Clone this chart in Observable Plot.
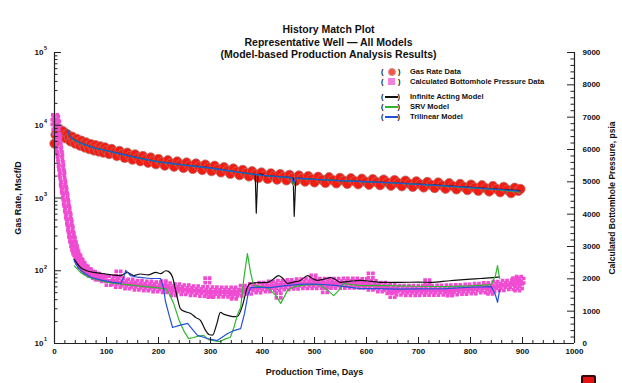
<!DOCTYPE html>
<html><head><meta charset="utf-8">
<script src="https://cdn.jsdelivr.net/npm/d3@7"></script>
<script src="https://cdn.jsdelivr.net/npm/@observablehq/plot@0.6"></script>
<style>
body{margin:0;background:#fff}
#chart{position:relative;width:622px;height:383px;overflow:hidden;font-family:"Liberation Sans",Arial,sans-serif;font-weight:bold}
#chart svg{display:block}
.lg{position:absolute;font-size:7.5px;line-height:9px;color:#111;white-space:nowrap}
.lg .p{position:absolute;top:0}
.lg .t{position:absolute;top:0;left:29px}
.lg .sym{position:absolute}
#badge{position:absolute;left:581px;top:375px;width:11px;height:10px;background:#e31212;border:2px solid #3a0505;border-radius:2px}
</style></head><body><div id="chart"></div>
<script>
// ---------- text ----------
const titleText = "History Match Plot\nRepresentative Well \u2014 All Models\n(Model-based Production Analysis Results)";
const xLabel = "Production Time, Days";
const yLeftLabel = "Gas Rate, Mscf/D";
const yRightLabel = "Calculated Bottomhole Pressure, psia";
const legendLabels = ["Gas Rate Data", "Calculated Bottomhole Pressure Data", "Infinite Acting Model", "SRV Model", "Trilinear Model"];

// ---------- ticks ----------
const xTicks = [0, 100, 200, 300, 400, 500, 600, 700, 800, 900, 1000];
const xTickLabels = ["0", "100", "200", "300", "400", "500", "600", "700", "800", "900", "1000"];
const rateTicks = [10, 100, 1000, 10000, 100000];
const rateTickExponents = ["1", "2", "3", "4", "5"];
const pressureTicks = [0, 1000, 2000, 3000, 4000, 5000, 6000, 7000, 8000, 9000];
const pressureTickLabels = ["0", "1000", "2000", "3000", "4000", "5000", "6000", "7000", "8000", "9000"];

// ---------- gas rate data [day, Mscf/D] ----------
const gasRateData = [[0,5600],[2,7400],[4,8000],[6,7900],[8,9000],[10,8300],[13,7400],[16,8300],[19,7400],[22,6600],[25,7500],[28,6750],[31,6000],[34,6950],[37,6250],[40,5600],[43,6500],[46,5860],[49,5250],[52,6120],[55,5520],[58,4950],[61,5800],[64,5230],[67,4700],[70,5500],[73,4980],[76,4500],[79,5300],[82,4800],[85,4350],[88,5120],[91,4640],[94,4200],[97,4960],[100,4500],
  [105,4020],[110,4710],[115,4235],[120,3780],[125,4430],[130,3980],[135,3560],[140,4190],[145,3770],[150,3370],[155,3970],[160,3580],[165,3200],[170,3770],[175,3405],[180,3050],[185,3600],[190,3250],[195,2910],[200,3430],[206,3110],[212,2790],[218,3300],[224,2990],[230,2690],[236,3180],[242,2885],[248,2590],[254,3070],[260,2790],[266,2510],[272,2980],[278,2700],[284,2430],[290,2880],[296,2610],[302,2340],[308,2770],[314,2505],[320,2250],[326,2650],[332,2400],[338,2150],[344,2540],[350,2295],[356,2060],[362,2430],[368,2200],[374,1980],[380,2330],[386,2110],[392,1890],[398,2240],[404,2030],[410,1830],[416,2180],[422,1985],[428,1790],[434,2130],[440,1940],[446,1750],[452,2080],[458,1895],[464,1710],[470,2035],[476,1855],[482,1680],[488,1995],[494,1818],[500,1640],
  [507,1955],[514,1785],[521,1615],[528,1925],[535,1755],[542,1590],[549,1890],[556,1728],[563,1565],[570,1865],[577,1704],[584,1545],[591,1840],[598,1680],[605,1520],[612,1815],[619,1657],[626,1500],[633,1790],[640,1632],[647,1475],[654,1760],[661,1605],[668,1450],[675,1730],[682,1575],[689,1425],[696,1695],[703,1545],[710,1395],[717,1660],[724,1515],[731,1370],[738,1630],[745,1485],[752,1340],[759,1595],[766,1455],[773,1315],[780,1560],[787,1421],[794,1285],[801,1525],[808,1390],[815,1255],[822,1495],[829,1360],[836,1230],[843,1460],[850,1330],[857,1200],[864,1420],[871,1293],[878,1165],[885,1380],[892,1255],[896,1330]];

// ---------- bottomhole pressure data [day, psia] ----------
const pressureData = [[0,6850],[1,7000],[2,6700],[3,6950],[4,6550],[5,6800],[6,6400],[7,6300],[8,6100],[9,6000],[10,5850],[11,5750],[12,5550],[13,5450],[14,5280],[15,5200],[16,4980],[17,4920],[18,4780],[19,4720],[20,4580],[21,4520],[22,4380],[23,4320],[24,4180],[25,4120],[26,3980],[27,3920],[28,3780],[29,3720],[30,3580],[31,3520],[32,3380],[33,3340],[34,3230],[35,3200],[36,3080],[37,3060],[38,2960],[39,2940],[40,2850],[42,2790],[44,2690],[46,2640],[48,2550],[50,2520],[52,2440],[54,2420],[57,2340],[60,2320],[63,2240],[66,2230],[70,2160],[74,2150],[78,2090],[82,2090],[86,2040],[90,2050],[95,1990],[100,2010],
  [104,1870],[110,2010],[116,1915],[122,1815],[128,1955],[134,1860],[140,1765],[146,1915],[152,1820],[158,1730],[164,1875],[170,1785],[176,1700],[182,1850],[188,1765],[194,1675],[200,1830],[206,1740],[212,1650],[218,1800],[224,1710],[230,1620],[236,1770],[242,1680],[248,1590],[254,1740],[260,1650],[266,1560],[272,1710],[278,1625],[284,1535],[290,1685],[296,1600],[302,1518],[308,1676],[314,1594],[320,1512],[326,1671],[332,1590],[338,1510],[344,1670],[350,1600],[356,1540],[362,1720],[368,1660],[374,1600],[380,1775],[386,1710],[392,1640],[398,1815],[404,1745],[410,1675],[416,1850],[422,1780],[428,1710],[434,1880],[440,1805],[446,1735],[452,1900],[458,1830],[464,1755],[470,1925],[476,1850],[482,1770],[488,1932],[494,1853],[500,1774],[506,1935],[512,1856],[518,1777],[524,1938],[530,1860],[536,1780],[542,1942],[548,1863],[554,1784],[560,1945],[566,1866],[572,1787],[578,1948],[584,1869],[590,1790],[596,1930],[602,1830],[608,1730],[614,1870],[620,1770],[626,1670],[632,1815],[638,1720],[644,1620],[650,1765],[656,1670],[662,1570],[668,1720],[674,1640],[680,1560],[686,1720],[692,1640],[698,1560],[704,1722],[710,1643],[716,1564],[722,1725],[728,1646],[734,1567],[740,1728],[746,1649],[752,1570],[758,1734],[764,1658],[770,1582],[776,1746],[782,1670],[788,1594],[794,1758],[800,1680],[806,1610],[812,1780],[818,1710],[824,1638],[830,1806],[836,1735],[842,1670],[848,1845],[854,1780],[860,1710],[866,1880],[872,1810],[878,1740],[884,1910],[890,1840],[895,1770],[898,1940],
  [83,2040],[123,2160],[210,1860],[229,1560],[294,1950],[300,1500],[345,1450],[431,1480],[498,2040],[520,1650],[608,2100],[650,1500],[717,1890],[760,1550],[838,1600],[886,1950],[890,1700],[893,2000]];

// ---------- model curves: gas rate [day, Mscf/D] ----------
const infiniteActingRate = [[25,8500],[29,7100],[35,6500],[45,5950],[60,5350],[80,4830],[100,4500],[125,4065],[150,3700],[175,3405],[200,3150],[225,2985],[250,2840],[275,2715],[300,2590],[325,2430],[350,2295],[375,2165],[386,2110],[388,620],[391,2100],[397,2150],[403,2035],[425,1980],[450,1915],[459,1892],[461,560],[464,1880],[475,1858],[500,1805],[550,1735],[600,1678],[650,1620],[700,1550],[750,1478],[800,1402],[850,1330],[895,1265]];
const srvRate = [[25,8600],[29,7000],[35,6450],[45,5900],[60,5330],[80,4810],[100,4480],[125,4050],[150,3690],[175,3395],[200,3140],[225,2975],[250,2830],[275,2705],[300,2580],[325,2420],[350,2285],[375,2155],[400,2040],[425,1975],[450,1910],[456,1895],[460,1480],[464,1875],[475,1850],[500,1800],[550,1728],[600,1668],[650,1608],[700,1535],[750,1460],[800,1380],[850,1300],[895,1200]];
const trilinearRate = [[25,8800],[29,7050],[35,6480],[45,5930],[60,5345],[80,4820],[100,4490],[125,4058],[150,3695],[175,3400],[200,3145],[225,2980],[250,2835],[275,2710],[300,2585],[325,2425],[350,2290],[375,2160],[400,2045],[425,1978],[450,1913],[456,1897],[460,1600],[464,1880],[475,1855],[500,1803],[550,1732],[600,1672],[650,1612],[700,1542],[750,1468],[800,1390],[850,1315],[895,1240]];

// ---------- model curves: pressure [day, psia] ----------
const infiniteActingPressure = [[38,2600],[50,2350],[62,2250],[75,2200],[92,2165],[110,2120],[127,2100],[140,2200],[152,2100],[165,2150],[180,2120],[195,2200],[204,2160],[214,2250],[219,2230],[227,2050],[235,1500],[242,1080],[252,980],[262,930],[272,800],[281,710],[290,420],[298,270],[304,260],[312,600],[319,960],[326,900],[333,870],[343,830],[352,840],[362,1200],[370,1700],[377,1860],[390,1880],[410,1890],[420,1980],[431,2100],[440,2000],[448,1860],[460,1900],[473,1950],[487,2100],[497,2000],[506,1950],[518,1990],[531,2040],[540,1980],[550,1890],[570,1930],[588,1950],[610,1920],[633,1890],[665,1890],[700,1900],[723,1890],[760,1940],[800,1990],[819,2010],[844,2040],[856,2060]];
const srvPressure = [[38,2400],[50,2200],[65,2050],[80,1980],[100,1900],[120,1850],[140,1820],[160,1780],[180,1750],[200,1720],[215,1680],[222,1500],[229,1240],[240,700],[250,350],[258,150],[267,185],[277,230],[287,250],[296,120],[306,90],[318,60],[330,150],[338,185],[345,500],[352,900],[358,1110],[364,2000],[371,2780],[377,2200],[383,1790],[395,1760],[410,1720],[425,1500],[435,1240],[442,1450],[448,1640],[460,1750],[473,1790],[490,1830],[510,1820],[525,1650],[537,1480],[547,1650],[556,1860],[570,1820],[588,1790],[620,1800],[660,1780],[700,1770],[750,1760],[800,1780],[840,1820],[848,2100],[852,2410],[856,2010]];
const trilinearPressure = [[38,2550],[45,2350],[55,2200],[70,2050],[90,1960],[110,1900],[128,1860],[134,2100],[137,2260],[146,2100],[160,2050],[185,2010],[204,2010],[210,1700],[213,1330],[220,900],[227,495],[240,560],[256,620],[266,420],[275,250],[285,200],[294,155],[304,120],[313,90],[323,200],[333,310],[345,400],[358,460],[365,900],[372,1500],[377,1730],[395,1740],[415,1730],[440,1780],[470,1830],[500,1840],[540,1800],[588,1700],[620,1700],[660,1680],[700,1690],[750,1700],[800,1740],[840,1760],[848,1500],[852,1270],[856,1650]];

// ---------- styling ----------
const FONT = '"Liberation Sans", Arial, sans-serif';
const rateFill = "#f41c10", rateStroke = "#b86a6a";
const pressureFill = "#f04cd2";
const modelColors = {ia: "#111111", srv: "#2fb52f", tri: "#2452d6"};
const W = 622, H = 383, mL = 54, mR = 48, mT = 52, mB = 40;
const pxPerDay = (W - mL - mR) / 1000;
const pxPerDecade = (H - mT - mB) / 4;

// right (linear psia 0..9000) axis mapped onto the left log scale
const toRateAxis = p => Math.pow(10, 1 + 4 * p / 9000);

// tick mark geometry (inward ticks)
const majX = 7 / pxPerDay, minX = 3.5 / pxPerDay;
const majY = Math.pow(10, 6 / pxPerDecade), minY = Math.pow(10, 3 / pxPerDecade);
const rateMinor = [];
for (let k = 1; k <= 4; k++) for (let m = 2; m <= 9; m++) rateMinor.push(m * Math.pow(10, k));
const pressureMinor = [];
for (let p = 200; p < 9000; p += 200) if (p % 1000) pressureMinor.push(p);
const xMinor = [];
for (let d = 20; d < 1000; d += 20) if (d % 100) xMinor.push(d);

// grid-square symbol: four filled quadrants separated by a thin gap
const gridSquare = {
  draw(ctx, size) {
    const s = Math.sqrt(size) / 2, g = 0.4, w = s - g;
    ctx.rect(-s, -s, w, w); ctx.rect(g, -s, w, w);
    ctx.rect(-s, g, w, w); ctx.rect(g, g, w, w);
  }
};

const chart = Plot.plot({
  width: W, height: H,
  marginLeft: mL, marginRight: mR, marginTop: mT, marginBottom: mB,
  style: {fontFamily: FONT, fontWeight: "bold", background: "white", color: "#111", overflow: "visible"},
  x: {domain: [0, 1000], axis: null},
  y: {type: "log", domain: [10, 1e5], axis: null},
  marks: [
    // data
    Plot.dot(gasRateData, {x: d => d[0], y: d => d[1], r: 4.7, fill: rateFill, stroke: rateStroke, strokeWidth: 0.8}),
    Plot.dot(pressureData, {x: d => d[0], y: d => toRateAxis(d[1]), r: 4.6, symbol: gridSquare, fill: pressureFill, stroke: "none"}),
    // model curves (rate)
    Plot.line(infiniteActingRate, {x: d => d[0], y: d => d[1], stroke: modelColors.ia, strokeWidth: 1.2}),
    Plot.line(srvRate, {x: d => d[0], y: d => d[1], stroke: modelColors.srv, strokeWidth: 1.2}),
    Plot.line(trilinearRate, {x: d => d[0], y: d => d[1], stroke: modelColors.tri, strokeWidth: 1.3}),
    // model curves (pressure)
    Plot.line(infiniteActingPressure, {x: d => d[0], y: d => toRateAxis(d[1]), stroke: modelColors.ia, strokeWidth: 1.2, curve: "monotone-x"}),
    Plot.line(srvPressure, {x: d => d[0], y: d => toRateAxis(d[1]), stroke: modelColors.srv, strokeWidth: 1.2}),
    Plot.line(trilinearPressure, {x: d => d[0], y: d => toRateAxis(d[1]), stroke: modelColors.tri, strokeWidth: 1.2}),
    // frame: left, right, bottom
    Plot.ruleX([0, 1000], {stroke: "#222", strokeWidth: 1.2}),
    Plot.ruleY([10], {stroke: "#222", strokeWidth: 1.2}),
    // left axis ticks (inward)
    Plot.ruleY(rateTicks, {y: d => d, x1: 0, x2: majX, stroke: "#222"}),
    Plot.ruleY(rateMinor, {y: d => d, x1: 0, x2: minX, stroke: "#222"}),
    // right axis ticks (inward)
    Plot.ruleY(pressureTicks, {y: d => toRateAxis(d), x1: 1000 - majX, x2: 1000, stroke: "#222"}),
    Plot.ruleY(pressureMinor, {y: d => toRateAxis(d), x1: 1000 - minX, x2: 1000, stroke: "#222"}),
    // bottom axis ticks (inward)
    Plot.ruleX(xTicks, {x: d => d, y1: 10, y2: 10 * majY, stroke: "#222"}),
    Plot.ruleX(xMinor, {x: d => d, y1: 10, y2: 10 * minY, stroke: "#222"}),
    // tick labels
    Plot.text(rateTicks, {y: d => d, frameAnchor: "left", dx: -11, text: () => "10", textAnchor: "end", fontSize: 8}),
    Plot.text(rateTicks, {y: d => d, frameAnchor: "left", dx: -10.5, dy: -4, text: (d, i) => rateTickExponents[i], textAnchor: "start", fontSize: 5.5}),
    Plot.text(pressureTicks, {y: d => toRateAxis(d), frameAnchor: "right", dx: 8, text: (d, i) => pressureTickLabels[i], textAnchor: "start", fontSize: 8}),
    Plot.text(xTicks, {x: d => d, frameAnchor: "bottom", dy: 10, text: (d, i) => xTickLabels[i], fontSize: 8}),
    // axis titles
    Plot.text([yLeftLabel], {text: d => d, frameAnchor: "left", dx: -36, rotate: -90, textAnchor: "middle", fontSize: 9}),
    Plot.text([yRightLabel], {text: d => d, frameAnchor: "right", dx: 38, rotate: -90, textAnchor: "middle", fontSize: 8.5}),
    Plot.text([xLabel], {text: d => d, frameAnchor: "bottom", dy: 31, fontSize: 9}),
    // title
    Plot.text([titleText], {text: d => d, frameAnchor: "top", dx: 14, dy: -28, fontSize: 10.5, lineHeight: 1.17})
  ]
});

const root = document.getElementById("chart");
root.appendChild(chart);

// legend (HTML overlay)
const legendKinds = ["circle", "square", "line", "line", "line"];
const legendColors = [rateFill, pressureFill, modelColors.ia, modelColors.srv, modelColors.tri];
const legendTops = [67, 77, 92, 102, 112];
legendLabels.forEach((label, i) => {
  const row = document.createElement("div");
  row.className = "lg";
  row.style.left = "381px";
  row.style.top = legendTops[i] + "px";
  let sym;
  if (legendKinds[i] === "circle") sym = `<span class="sym" style="left:7px;top:1px;width:6px;height:6px;border-radius:50%;background:${legendColors[i]};border:1px solid ${rateStroke};opacity:.75"></span>`;
  else if (legendKinds[i] === "square") sym = `<span class="sym" style="left:7px;top:1px;width:7px;height:7px;background:${legendColors[i]};opacity:.7"></span>`;
  else sym = `<span class="sym" style="left:3.5px;top:4px;width:13px;height:1.6px;background:${legendColors[i]}"></span>`;
  const closeLeft = legendKinds[i] === "line" ? 16.5 : 17;
  row.innerHTML = `<span class="p" style="left:0">(</span>${sym}<span class="p" style="left:${closeLeft}px">)</span><span class="t">${label}</span>`;
  root.appendChild(row);
});
const badge = document.createElement("div");
badge.id = "badge";
root.appendChild(badge);
</script>
</body></html>
